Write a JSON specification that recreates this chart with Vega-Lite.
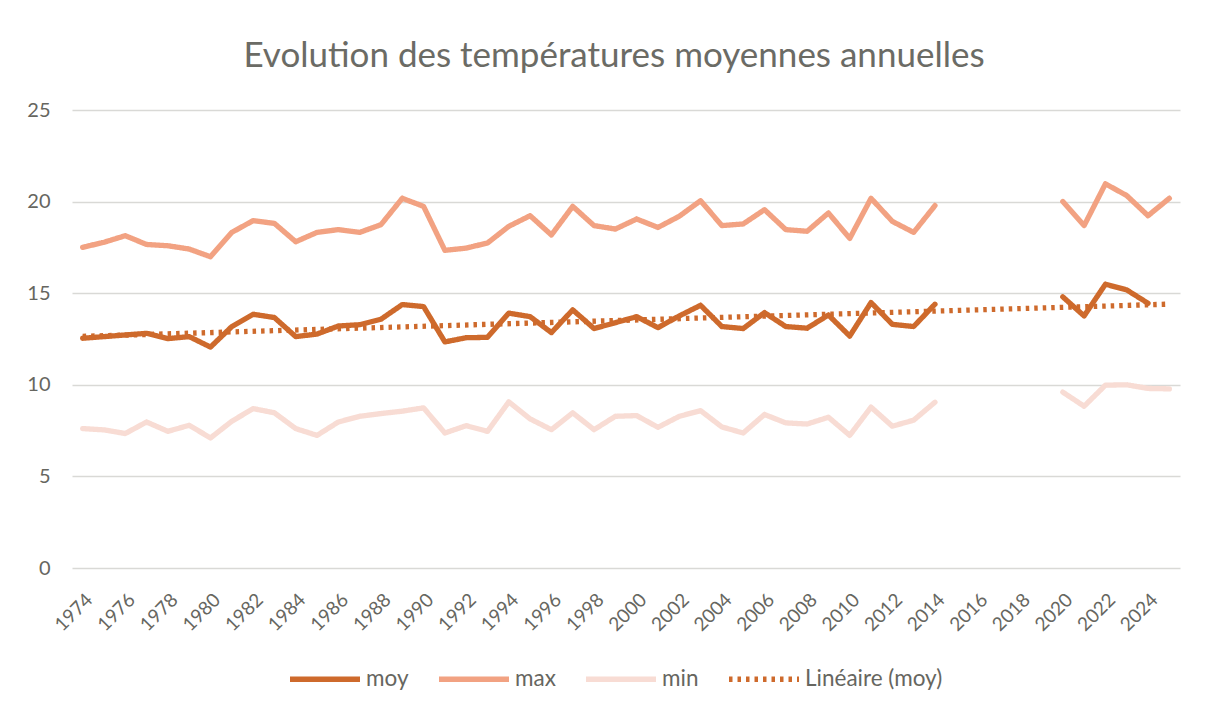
{
  "$schema": "https://vega.github.io/schema/vega-lite/v6.json",
  "autosize": "none",
  "width": 1108,
  "height": 458,
  "padding": {"left": 72, "top": 110, "right": 35, "bottom": 143},
  "background": "white",
  "title": {
    "text": "Evolution des températures moyennes annuelles",
    "font": "Lato",
    "fontSize": 35,
    "fontWeight": "normal",
    "color": "#6b6b65",
    "offset": 26,
    "dx": -12
  },
  "data": {
    "values": [
      {"year": 1974, "moy": 12.54, "max": 17.50, "min": 7.61},
      {"year": 1975, "moy": 12.63, "max": 17.78, "min": 7.54},
      {"year": 1976, "moy": 12.72, "max": 18.14, "min": 7.34},
      {"year": 1977, "moy": 12.81, "max": 17.66, "min": 7.97},
      {"year": 1978, "moy": 12.52, "max": 17.59, "min": 7.46},
      {"year": 1979, "moy": 12.63, "max": 17.41, "min": 7.79},
      {"year": 1980, "moy": 12.06, "max": 16.99, "min": 7.10},
      {"year": 1981, "moy": 13.18, "max": 18.32, "min": 8.01},
      {"year": 1982, "moy": 13.85, "max": 18.96, "min": 8.70},
      {"year": 1983, "moy": 13.67, "max": 18.81, "min": 8.47},
      {"year": 1984, "moy": 12.63, "max": 17.81, "min": 7.61},
      {"year": 1985, "moy": 12.77, "max": 18.32, "min": 7.24},
      {"year": 1986, "moy": 13.21, "max": 18.47, "min": 7.97},
      {"year": 1987, "moy": 13.28, "max": 18.32, "min": 8.28},
      {"year": 1988, "moy": 13.58, "max": 18.74, "min": 8.43},
      {"year": 1989, "moy": 14.38, "max": 20.18, "min": 8.56},
      {"year": 1990, "moy": 14.27, "max": 19.74, "min": 8.74},
      {"year": 1991, "moy": 12.34, "max": 17.34, "min": 7.37},
      {"year": 1992, "moy": 12.57, "max": 17.46, "min": 7.77},
      {"year": 1993, "moy": 12.59, "max": 17.74, "min": 7.46},
      {"year": 1994, "moy": 13.91, "max": 18.65, "min": 9.07},
      {"year": 1995, "moy": 13.72, "max": 19.23, "min": 8.14},
      {"year": 1996, "moy": 12.85, "max": 18.18, "min": 7.55},
      {"year": 1997, "moy": 14.09, "max": 19.74, "min": 8.47},
      {"year": 1998, "moy": 13.07, "max": 18.69, "min": 7.55},
      {"year": 1999, "moy": 13.39, "max": 18.50, "min": 8.28},
      {"year": 2000, "moy": 13.72, "max": 19.05, "min": 8.32},
      {"year": 2001, "moy": 13.12, "max": 18.59, "min": 7.68},
      {"year": 2002, "moy": 13.76, "max": 19.20, "min": 8.28},
      {"year": 2003, "moy": 14.34, "max": 20.05, "min": 8.59},
      {"year": 2004, "moy": 13.18, "max": 18.69, "min": 7.70},
      {"year": 2005, "moy": 13.07, "max": 18.78, "min": 7.37},
      {"year": 2006, "moy": 13.94, "max": 19.56, "min": 8.38},
      {"year": 2007, "moy": 13.18, "max": 18.47, "min": 7.92},
      {"year": 2008, "moy": 13.09, "max": 18.38, "min": 7.86},
      {"year": 2009, "moy": 13.81, "max": 19.38, "min": 8.23},
      {"year": 2010, "moy": 12.66, "max": 17.99, "min": 7.24},
      {"year": 2011, "moy": 14.49, "max": 20.18, "min": 8.78},
      {"year": 2012, "moy": 13.30, "max": 18.92, "min": 7.74},
      {"year": 2013, "moy": 13.18, "max": 18.32, "min": 8.07},
      {"year": 2014, "moy": 14.40, "max": 19.78, "min": 9.05},
      {"year": 2015, "moy": null, "max": null, "min": null},
      {"year": 2016, "moy": null, "max": null, "min": null},
      {"year": 2017, "moy": null, "max": null, "min": null},
      {"year": 2018, "moy": null, "max": null, "min": null},
      {"year": 2019, "moy": null, "max": null, "min": null},
      {"year": 2020, "moy": 14.80, "max": 20.00, "min": 9.60},
      {"year": 2021, "moy": 13.76, "max": 18.69, "min": 8.83},
      {"year": 2022, "moy": 15.49, "max": 20.97, "min": 9.98},
      {"year": 2023, "moy": 15.18, "max": 20.33, "min": 10.00},
      {"year": 2024, "moy": 14.45, "max": 19.23, "min": 9.80},
      {"year": 2025, "moy": null, "max": 20.18, "min": 9.78}
    ]
  },
  "transform": [
    {"fold": ["moy", "max", "min"], "as": ["series", "value"]}
  ],
  "encoding": {
    "x": {
      "field": "year",
      "type": "quantitative",
      "scale": {"domain": [1973.5, 2025.5], "nice": false, "zero": false},
      "axis": {
        "title": null,
        "values": [1974, 1976, 1978, 1980, 1982, 1984, 1986, 1988, 1990, 1992, 1994, 1996, 1998, 2000, 2002, 2004, 2006, 2008, 2010, 2012, 2014, 2016, 2018, 2020, 2022, 2024],
        "format": "d",
        "labelAngle": -45,
        "labelOverlap": false,
        "labelFontSize": 19,
        "grid": false,
        "ticks": false,
        "domain": false,
        "labelPadding": 22
      }
    },
    "y": {
      "field": "value",
      "type": "quantitative",
      "scale": {"domain": [0, 25], "nice": false},
      "axis": {
        "title": null,
        "values": [0, 5, 10, 15, 20, 25],
        "grid": true,
        "gridColor": "#d9d9d6",
        "gridWidth": 1.5,
        "ticks": false,
        "domain": false,
        "labelPadding": 22
      }
    }
  },
  "layer": [
    {
      "mark": {"type": "line", "strokeCap": "round", "strokeJoin": "round"},
      "encoding": {
        "color": {
          "field": "series",
          "type": "nominal",
          "scale": {
            "domain": ["moy", "max", "min", "Linéaire (moy)"],
            "range": ["#ce6a2c", "#f2a282", "#f8dcd4", "#ce6a2c"]
          },
          "legend": {"title": null}
        },
        "strokeDash": {
          "field": "series",
          "type": "nominal",
          "scale": {
            "domain": ["moy", "max", "min", "Linéaire (moy)"],
            "range": [[1, 0], [1, 0], [1, 0], [3.5, 5]]
          },
          "legend": {"title": null}
        },
        "strokeWidth": {
          "field": "series",
          "type": "nominal",
          "scale": {
            "domain": ["moy", "max", "min", "Linéaire (moy)"],
            "range": [5.3, 5.3, 5.3, 3.5]
          },
          "legend": {"title": null}
        },
        "order": {"field": "year"}
      }
    },
    {
      "transform": [
        {"filter": "datum.series === 'moy' && isValid(datum.value)"},
        {"regression": "value", "on": "year", "extent": [1974, 2025]}
      ],
      "mark": {"type": "line", "strokeCap": "butt"},
      "encoding": {
        "color": {"datum": "Linéaire (moy)"},
        "strokeDash": {"datum": "Linéaire (moy)"},
        "strokeWidth": {"datum": "Linéaire (moy)"}
      }
    }
  ],
  "config": {
    "view": {"stroke": null},
    "axis": {"labelFont": "Lato", "labelFontSize": 20, "labelColor": "#666660"},
    "legend": {
      "orient": "none",
      "legendX": 215,
      "legendY": 531,
      "direction": "horizontal",
      "symbolType": "stroke",
      "symbolSize": 4900,
      "labelFont": "Lato",
      "labelFontSize": 22.5,
      "labelColor": "#666660",
      "labelOffset": 3,
      "columnPadding": 19,
      "symbolStrokeColor": null
    }
  }
}
